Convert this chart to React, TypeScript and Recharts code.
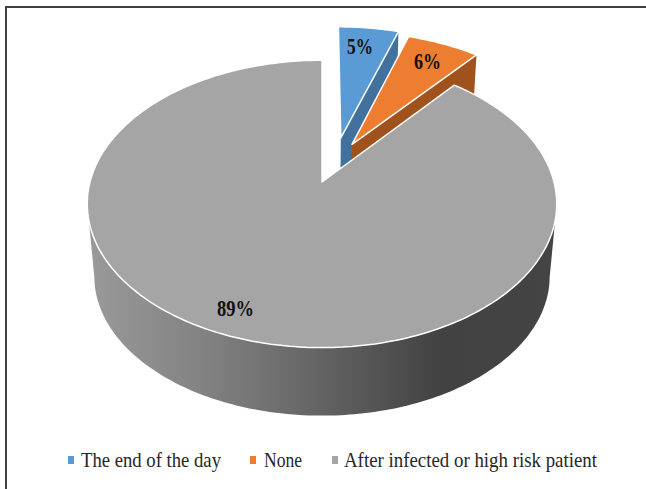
import React from 'react'
import { PieChart, Pie, Legend } from 'recharts'

const categories = ['The end of the day', 'None', 'After infected or high risk patient']
const shares = [5, 6, 89]
const topColors = ['#5B9BD5', '#ED7D31', '#A5A5A5']
const wallColors = ['#41719C', '#A0521C', 'url(#rimShade)']

const pieData = categories.map((name, i) => ({ name, value: shares[i], fill: topColors[i], index: i }))

// tilt of the disk and the drop to its lower face
const SQUASH = 0.605
const PERSPECTIVE = 0.1525
const DEPTH = 73
const LOWER_SCALE = 0.97

// how far each slice is pulled off the disk, in disk radii
const explode = [
  [0.085, 0.33],
  [0.135, 0.28],
  [0, 0],
]

const labelSpots = [
  { x: 347, y: 54, w: 26 },
  { x: 414, y: 69, w: 27 },
  { x: 217, y: 316, w: 37 },
]

const legendSpots = [
  { box: 68, text: 81, w: 140 },
  { box: 250, text: 264, w: 38 },
  { box: 332, text: 344, w: 253 },
]

type Pt = [number, number]

function SliceShape(props: any) {
  const { cx, cy, outerRadius: R, startAngle, endAngle, fill, index } = props
  const [ox, oy] = explode[index]

  const project = (u: number, v: number, lower = false): Pt => {
    const w = 1 + PERSPECTIVE * (v + oy)
    const s = lower ? LOWER_SCALE : 1
    return [
      cx + (R * (u + ox) * s) / w,
      cy - (R * SQUASH * (v + oy) * s) / w + (lower ? DEPTH : 0),
    ]
  }
  const onRim = (deg: number, lower = false) => {
    const a = (deg * Math.PI) / 180
    return project(Math.cos(a), Math.sin(a), lower)
  }
  const toPath = (pts: Pt[]) =>
    'M' + pts.map((p) => `${p[0].toFixed(1)},${p[1].toFixed(1)}`).join('L') + 'Z'

  const steps = Math.max(2, Math.round(Math.abs(startAngle - endAngle)))
  const rim: Pt[] = []
  for (let i = 0; i <= steps; i++) {
    rim.push(onRim(startAngle + ((endAngle - startAngle) * i) / steps))
  }

  let wall: Pt[]
  if (index === 2) {
    // outer wall of the big slice, between the two widest points of the disk
    const front: Pt[] = []
    const frontLower: Pt[] = []
    for (let d = 189; d <= 351; d += 1) {
      front.push(onRim(d))
      frontLower.unshift(onRim(d, true))
    }
    wall = [...front, ...frontLower]
  } else {
    // cut face on the clockwise side of the small slices
    wall = [project(0, 0), onRim(endAngle), onRim(endAngle, true), project(0, 0, true)]
  }

  return (
    <g>
      <path d={toPath(wall)} fill={wallColors[index]} />
      <path d={toPath([project(0, 0), ...rim])} fill={fill} stroke="#fff" strokeWidth={1.5} strokeLinejoin="round" />
    </g>
  )
}

function SliceLabel(props: any) {
  const spot = labelSpots[props.index]
  return (
    <text
      x={spot.x}
      y={spot.y}
      textLength={spot.w}
      lengthAdjust="spacingAndGlyphs"
      fontFamily="Liberation Serif"
      fontWeight="bold"
      fontSize={23}
      fill="#111"
    >
      {`${shares[props.index]}%`}
    </text>
  )
}

function LegendRow(props: any) {
  const items = props.payload || []
  return (
    <svg width={646} height={60} style={{ display: 'block' }}>
      {items.map((item: any, i: number) => (
        <g key={item.value}>
          <rect x={legendSpots[i].box} y={26} width={6} height={8} fill={topColors[i]} />
          <text
            x={legendSpots[i].text}
            y={37}
            textLength={legendSpots[i].w}
            lengthAdjust="spacingAndGlyphs"
            fontFamily="Liberation Serif"
            fontSize={22}
            fill="#262626"
          >
            {item.value}
          </text>
        </g>
      ))}
    </svg>
  )
}

export default function App() {
  return (
    <div style={{ position: 'absolute', left: 0, top: 0, width: 646, height: 489, background: '#fff', overflow: 'hidden' }}>
      <div
        style={{
          position: 'absolute',
          left: 5,
          top: 6,
          right: 0,
          bottom: 0,
          borderTop: '2px solid #404040',
          borderLeft: '2px solid #404040',
        }}
      />
      <PieChart width={646} height={489} margin={{ top: 0, right: 0, bottom: 0, left: 0 }} style={{ position: 'absolute', left: 0, top: 0 }}>
        <defs>
          <linearGradient id="rimShade" x1="0" y1="0" x2="1" y2="0">
            <stop offset="0" stopColor="#9a9a9a" />
            <stop offset="0.25" stopColor="#828282" />
            <stop offset="0.5" stopColor="#636363" />
            <stop offset="0.75" stopColor="#424242" />
            <stop offset="1" stopColor="#444444" />
          </linearGradient>
        </defs>
        <Pie
          data={pieData}
          dataKey="value"
          nameKey="name"
          cx={322}
          cy={182}
          innerRadius={0}
          outerRadius={232}
          startAngle={90}
          endAngle={-270}
          stroke="none"
          shape={SliceShape}
          label={SliceLabel}
          labelLine={false}
          isAnimationActive={false}
        />
        <Legend
          content={LegendRow}
          itemSorter={null}
          wrapperStyle={{ position: 'absolute', left: 0, top: 430, width: 646, height: 60 }}
        />
      </PieChart>
    </div>
  )
}
